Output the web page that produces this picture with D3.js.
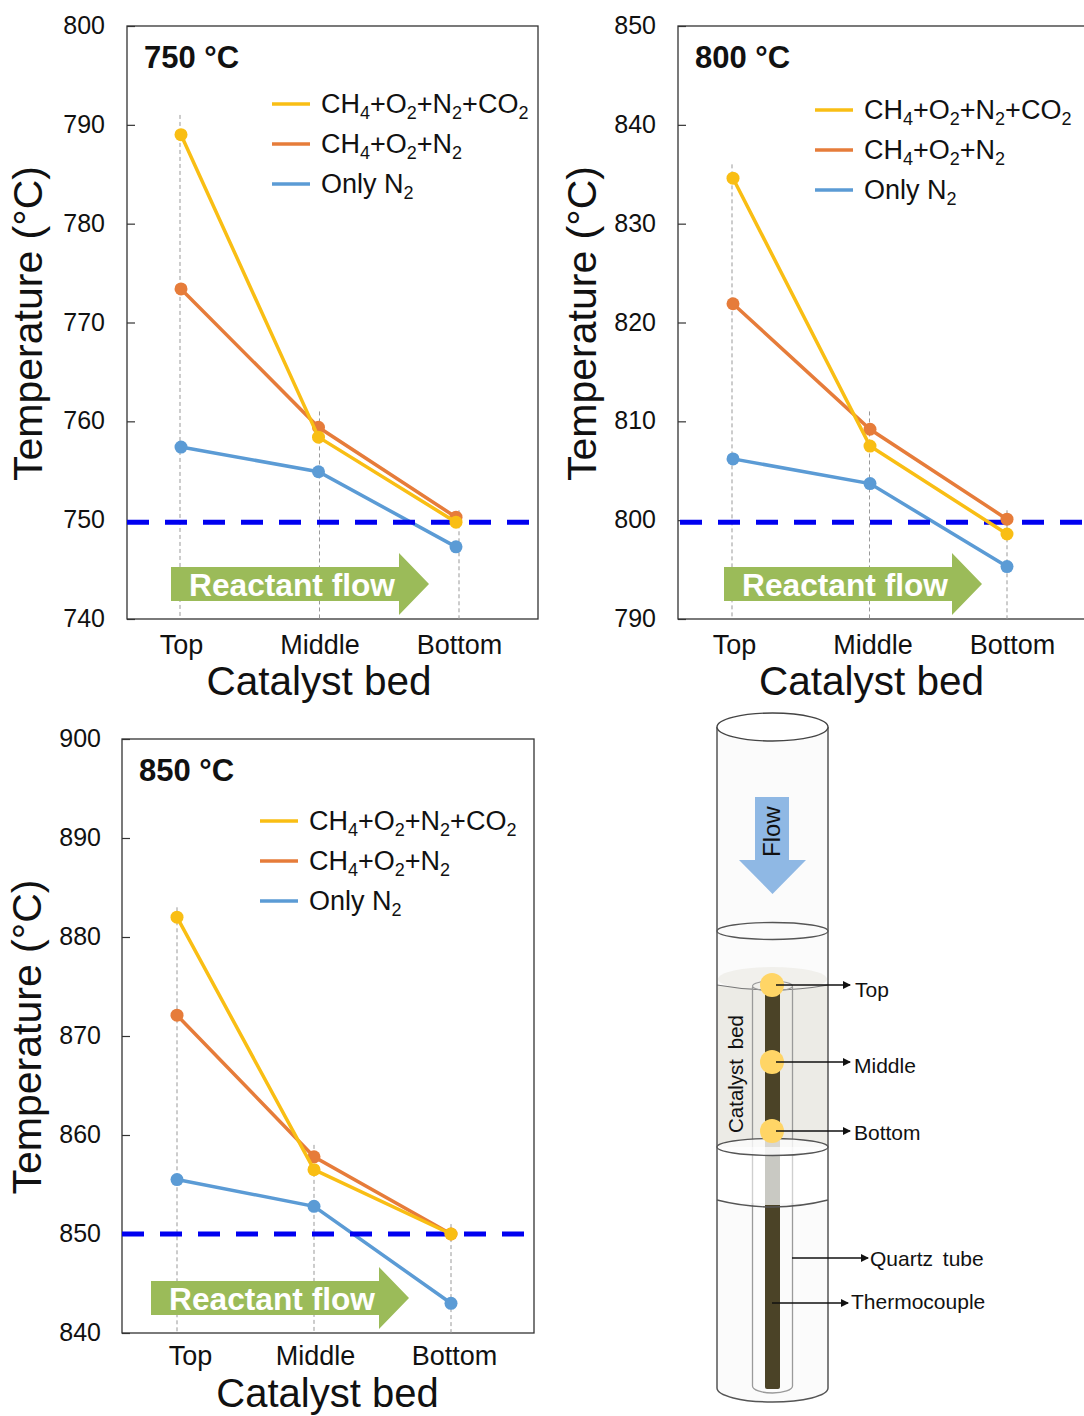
<!DOCTYPE html>
<html>
<head>
<meta charset="utf-8">
<script src="https://cdn.jsdelivr.net/npm/d3@7/dist/d3.min.js"></script>
<style>
  html, body { margin: 0; background: #fff; }
  svg { display: block; font-family: "Liberation Sans", Arial, sans-serif; }
</style>
</head>
<body>
<svg id="chart" width="1084" height="1416"></svg>
<script>
const categories = ["Top", "Middle", "Bottom"];
const seriesNames = ["Only N2", "CH4+O2+N2", "CH4+O2+N2+CO2"];
const legendOrder = ["CH4+O2+N2+CO2", "CH4+O2+N2", "Only N2"];

const n2At750 = [757.4, 754.9, 747.3];
const noCo2At750 = [773.4, 759.4, 750.3];
const co2At750 = [789, 758.4, 749.8];

const n2At800 = [806.2, 803.7, 795.3];
const noCo2At800 = [821.9, 809.2, 800.1];
const co2At800 = [834.6, 807.5, 798.6];

const n2At850 = [855.5, 852.8, 843];
const noCo2At850 = [872.1, 857.8, 850];
const co2At850 = [882, 856.5, 850];

const ticks750 = [740, 750, 760, 770, 780, 790, 800];
const ticks800 = [790, 800, 810, 820, 830, 840, 850];
const ticks850 = [840, 850, 860, 870, 880, 890, 900];

// furnace setpoint as drawn (sits just under the tick in the top two panels)
const setpoints = [749.8, 799.8, 850];
// how far up the dotted drop lines reach, in degrees
const dropTops750 = [791, 761, 751];
const dropTops800 = [836, 811, 801];
const dropTops850 = [883, 859, 851];

const colors = { "Only N2": "#5B9BD5", "CH4+O2+N2": "#E67C3A", "CH4+O2+N2+CO2": "#F9BE14" };

const panels = [
  { title: "750 °C", ticks: ticks750, values: [n2At750, noCo2At750, co2At750], setpoint: setpoints[0], dropTops: dropTops750,
    left: 127, right: 538, top: 26, bottom: 619, dropX: [180, 459], pointX: [181, 456], labelDx: [1, 0, 0],
    dashX: [127, 531], legendX: 272, legendY: 104, arrowX: 171, xTitleX: 319, xTitleY: 695, xTitleSize: 40.5, yTitleX: 42, yPad: 22, xPad: 16 },
  { title: "800 °C", ticks: ticks800, values: [n2At800, noCo2At800, co2At800], setpoint: setpoints[1], dropTops: dropTops800,
    left: 678, right: 1090, top: 26, bottom: 619, dropX: [732, 1007], pointX: [733, 1007], labelDx: [2, 3, 5],
    dashX: [680, 1084], legendX: 815, legendY: 110, arrowX: 724, xTitleX: 871.5, xTitleY: 695, xTitleSize: 40.5, yTitleX: 596, yPad: 22, xPad: 16 },
  { title: "850 °C", ticks: ticks850, values: [n2At850, noCo2At850, co2At850], setpoint: setpoints[2], dropTops: dropTops850,
    left: 122, right: 534, top: 739, bottom: 1333, dropX: [177, 451], pointX: [177, 451], labelDx: [13, 1, 3],
    dashX: [122, 528], legendX: 260, legendY: 821, arrowX: 151, xTitleX: 327.5, xTitleY: 1407.4, xTitleSize: 40, yTitleX: 41, yPad: 21, xPad: 13 }
];

const svg = d3.select("#chart");

// digits in a gas formula become subscripts
function addFormula(text, label) {
  label.split(/(\d)/).forEach((part, i) => {
    if (!part) return;
    const sub = i % 2 === 1;
    text.append("tspan")
      .attr("font-size", sub ? 18 : null)
      .attr("dy", sub ? 6 : (i > 0 ? -6 : 0))
      .text(part);
  });
}

function drawPanel(p) {
  const g = svg.append("g");
  const y = d3.scaleLinear().domain(d3.extent(p.ticks)).range([p.bottom, p.top]);
  const dropScale = d3.scalePoint().domain(categories).range(p.dropX);
  const x = d3.scalePoint().domain(categories).range(p.pointX);

  g.append("rect")
    .attr("x", p.left).attr("y", p.top)
    .attr("width", p.right - p.left).attr("height", p.bottom - p.top)
    .attr("fill", "#fff").attr("stroke", "#333").attr("stroke-width", 1.3);

  // dotted drop lines
  g.append("g").selectAll("line")
    .data(categories)
    .join("line")
    .attr("x1", d => dropScale(d)).attr("x2", d => dropScale(d))
    .attr("y1", (d, i) => y(p.dropTops[i])).attr("y2", p.bottom)
    .attr("stroke", "#999").attr("stroke-width", 1).attr("stroke-dasharray", "4 3");

  const yAxis = g.append("g")
    .attr("transform", `translate(${p.left},0)`)
    .call(d3.axisLeft(y).tickValues(p.ticks).tickSizeInner(-8).tickSizeOuter(0).tickPadding(p.yPad));
  yAxis.select(".domain").remove();
  yAxis.selectAll("line").attr("stroke", "#333").attr("stroke-width", 1.2);
  yAxis.selectAll("text").attr("font-size", 25).attr("font-family", null).attr("fill", "#111").attr("dy", "0.3em");

  const xAxis = g.append("g")
    .attr("transform", `translate(0,${p.bottom})`)
    .call(d3.axisBottom(dropScale).tickSize(0).tickPadding(p.xPad));
  xAxis.select(".domain").remove();
  xAxis.selectAll("text")
    .attr("font-size", 27).attr("font-family", null).attr("fill", "#111")
    .attr("dx", (d, i) => p.labelDx[i]);

  const line = d3.line().x((d, i) => x(categories[i])).y(d => y(d));

  seriesNames.forEach((name, s) => {
    g.append("path")
      .attr("d", line(p.values[s]))
      .attr("fill", "none").attr("stroke", colors[name]).attr("stroke-width", 3.5);
    g.append("g").selectAll("circle")
      .data(p.values[s])
      .join("circle")
      .attr("cx", (d, i) => x(categories[i])).attr("cy", d => y(d))
      .attr("r", 6.5).attr("fill", colors[name]);

    // the blue setpoint line sits over Only N2 but under the other two
    if (s === 0) {
      g.append("line")
        .attr("x1", p.dashX[0]).attr("x2", p.dashX[1])
        .attr("y1", y(p.setpoint)).attr("y2", y(p.setpoint))
        .attr("stroke", "#0000F0").attr("stroke-width", 5).attr("stroke-dasharray", "22 16");
    }
  });

  g.append("text")
    .attr("x", p.left + 17).attr("y", p.top + 42)
    .attr("font-size", 31).attr("font-weight", "bold").attr("fill", "#111")
    .text(p.title);

  // legend
  legendOrder.forEach((name, i) => {
    const ly = p.legendY + i * 40;
    g.append("line")
      .attr("x1", p.legendX).attr("x2", p.legendX + 38)
      .attr("y1", ly).attr("y2", ly)
      .attr("stroke", colors[name]).attr("stroke-width", 3.5);
    const t = g.append("text")
      .attr("x", p.legendX + 49).attr("y", ly + 9)
      .attr("font-size", 27).attr("fill", "#111");
    addFormula(t, name);
  });

  // reactant flow arrow
  const ax = p.arrowX, ay = p.bottom - 35;
  const arrow = [[0, -17], [228, -17], [228, -31], [258, 0], [228, 31], [228, 17], [0, 17]];
  g.append("path")
    .attr("d", d3.line()(arrow.map(d => [ax + d[0], ay + d[1]])) + "Z")
    .attr("fill", "#9BBB59");
  g.append("text")
    .attr("x", ax + 18).attr("y", ay + 12)
    .attr("font-size", 31.7).attr("font-weight", "bold").attr("fill", "#fff")
    .text("Reactant flow");

  g.append("text")
    .attr("x", p.xTitleX).attr("y", p.xTitleY)
    .attr("text-anchor", "middle").attr("font-size", p.xTitleSize).attr("fill", "#111")
    .text("Catalyst bed");

  g.append("text")
    .attr("transform", `translate(${p.yTitleX},${(p.top + p.bottom) / 2 + 1}) rotate(-90)`)
    .attr("text-anchor", "middle").attr("font-size", 41).attr("fill", "#111")
    .text("Temperature (°C)");
}

panels.forEach(drawPanel);

// reactor schematic, bottom right
function drawReactor() {
  const g = svg.append("g");
  const cx = 772.5, rx = 55.5, wall = "#555";
  const arc = (y0, sag) => `M${cx - rx},${y0}Q${cx},${y0 + 2 * sag} ${cx + rx},${y0}`;
  const bodyPath = `M${cx - rx},727V1388A${rx},14 0 0 0 ${cx + rx},1388V727`;

  g.append("defs").append("marker")
    .attr("id", "head").attr("viewBox", "0 0 8 8").attr("refX", 7).attr("refY", 4)
    .attr("markerWidth", 8).attr("markerHeight", 8).attr("markerUnits", "userSpaceOnUse").attr("orient", "auto")
    .append("path").attr("d", "M0,0L8,4L0,8Z").attr("fill", "#111");

  // glass body
  g.append("path").attr("d", bodyPath + "Z").attr("fill", "#fbfbfb");

  // catalyst bed
  g.append("path")
    .attr("d", `M${cx - rx},985V1147H${cx + rx}V985Q${cx},995 ${cx - rx},985Z`)
    .attr("fill", "#ecebe6");
  g.append("ellipse")
    .attr("cx", cx).attr("cy", 979).attr("rx", rx - 1).attr("ry", 12)
    .attr("fill", "#f1f0ec");
  g.append("path").attr("d", arc(985, 5)).attr("fill", "none").attr("stroke", "#777").attr("stroke-width", 1.2);

  // inner quartz tube
  g.append("path")
    .attr("d", "M752.5,987V1386A20,7 0 0 0 792.5,1386V987")
    .attr("fill", "none").attr("stroke", "#9a9a9a").attr("stroke-width", 1.3);
  g.append("ellipse")
    .attr("cx", 772.5).attr("cy", 986).attr("rx", 20).attr("ry", 5)
    .attr("fill", "none").attr("stroke", "#9a9a9a").attr("stroke-width", 1.2);

  // thermocouple
  g.append("rect").attr("x", 765).attr("y", 985).attr("width", 15).attr("height", 404).attr("rx", 2).attr("fill", "#4b4327");

  // top open end, divider and the band hiding the thermocouple
  g.append("rect").attr("x", cx - rx).attr("y", 1147).attr("width", 2 * rx).attr("height", 56).attr("fill", "#fff").attr("fill-opacity", 0.9);
  g.append("rect").attr("x", 765).attr("y", 1147).attr("width", 15).attr("height", 58).attr("fill", "#c9c9c3");
  g.append("path").attr("d", `M752.5,1147V1205M792.5,1147V1205`).attr("stroke", "#cfcfcf").attr("stroke-width", 1.3);
  g.append("ellipse").attr("cx", cx).attr("cy", 1147).attr("rx", rx).attr("ry", 8.5).attr("fill", "#fdfdfd").attr("fill-opacity", 0.8).attr("stroke", wall).attr("stroke-width", 1.4);
  g.append("path").attr("d", arc(1200, 7)).attr("fill", "none").attr("stroke", wall).attr("stroke-width", 1.4);

  // outer wall
  g.append("path")
    .attr("d", bodyPath)
    .attr("fill", "none").attr("stroke", wall).attr("stroke-width", 1.5);
  g.append("ellipse").attr("cx", cx).attr("cy", 727).attr("rx", rx).attr("ry", 14).attr("fill", "#fff").attr("stroke", "#444").attr("stroke-width", 1.4);
  g.append("ellipse").attr("cx", cx).attr("cy", 931).attr("rx", rx).attr("ry", 8.5).attr("fill", "none").attr("stroke", wall).attr("stroke-width", 1.3);

  // flow arrow
  g.append("path").attr("d", "M755,797H789V860H806L772.5,894L739,860H755Z").attr("fill", "#8FB8E4");
  g.append("text")
    .attr("transform", "translate(780,857) rotate(-90)")
    .attr("font-size", 24).attr("fill", "#111").text("Flow");

  g.append("text")
    .attr("transform", "translate(743,1133) rotate(-90)")
    .attr("font-size", 20.5).attr("word-spacing", 4).attr("fill", "#111").text("Catalyst bed");

  // measurement points
  g.append("g").selectAll("circle")
    .data([985, 1062, 1131])
    .join("circle")
    .attr("cx", 772).attr("cy", d => d).attr("r", 12).attr("fill", "#FFD566");

  const callouts = [
    { label: "Top", x0: 776, x1: 850, y: 985, tx: 855, ty: 997 },
    { label: "Middle", x0: 776, x1: 850, y: 1062, tx: 854, ty: 1073 },
    { label: "Bottom", x0: 776, x1: 850, y: 1131, tx: 854, ty: 1140 },
    { label: "Quartz tube", x0: 792, x1: 868, y: 1258, tx: 870, ty: 1266 },
    { label: "Thermocouple", x0: 772, x1: 848, y: 1303, tx: 851, ty: 1309 }
  ];
  callouts.forEach(c => {
    g.append("line")
      .attr("x1", c.x0).attr("x2", c.x1).attr("y1", c.y).attr("y2", c.y)
      .attr("stroke", "#111").attr("stroke-width", 1.4).attr("marker-end", "url(#head)");
    g.append("text")
      .attr("x", c.tx).attr("y", c.ty)
      .attr("font-size", 21).attr("word-spacing", 4).attr("fill", "#111").text(c.label);
  });
}

drawReactor();
</script>
</body>
</html>
